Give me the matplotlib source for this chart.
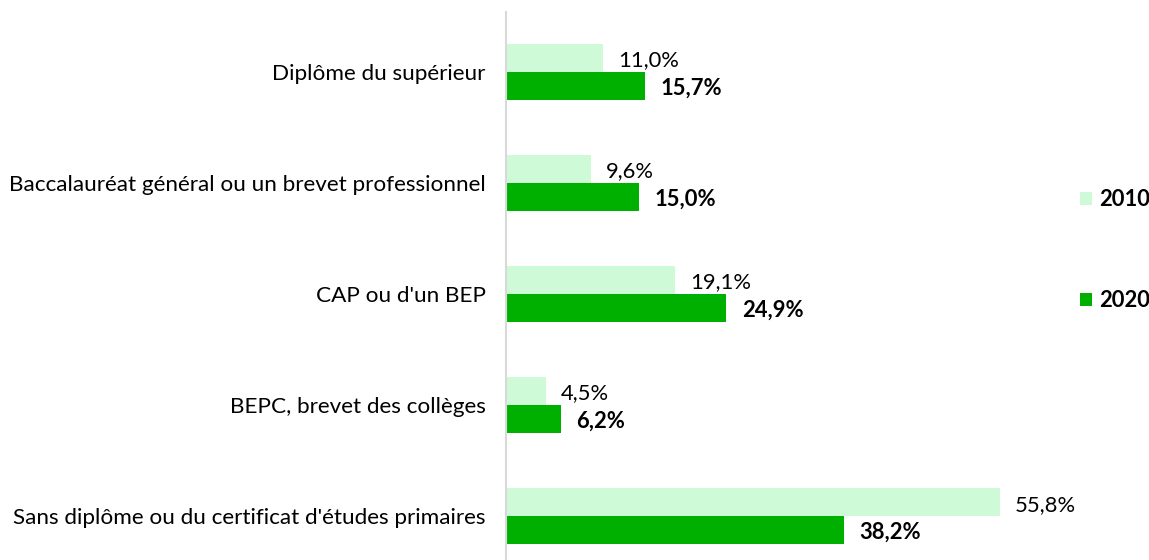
import matplotlib
matplotlib.use("Agg")
import matplotlib.pyplot as plt
from matplotlib.patches import Patch
import numpy as np

categories = [
    "Diplôme du supérieur",
    "Baccalauréat général ou un brevet professionnel",
    "CAP ou d'un BEP",
    "BEPC, brevet des collèges",
    "Sans diplôme ou du certificat d'études primaires",
]
values_2010 = [11.0, 9.6, 19.1, 4.5, 55.8]
values_2020 = [15.7, 15.0, 24.9, 6.2, 38.2]
series_labels = ["2010", "2020"]

c_light = "#CFFAD8"
c_dark = "#00B000"

plt.rcParams['font.family'] = ['Lato', 'DejaVu Sans']
FS = 15.8
FS_TICK = 16.2

W, H = 1149, 560
fig = plt.figure(figsize=(W / 100, H / 100), dpi=100)
left, right, top, bottom = 506, 1060, 12, 560
ax = fig.add_axes([left / W, 1 - bottom / H, (right - left) / W, (bottom - top) / H])

y = np.arange(len(categories))
h = 0.25
ax.barh(y - 0.128, values_2010, height=h, color=c_light, label=series_labels[0])
ax.barh(y + 0.128, values_2020, height=h, color=c_dark, label=series_labels[1])

px_per_unit = 8.85
ax.set_xlim(0, (right - left) / px_per_unit)
ax.set_ylim(4.396, -0.54)

def fmt(v):
    return f"{v:.1f}%".replace(".", ",")

for i, (a, b) in enumerate(zip(values_2010, values_2020)):
    ax.annotate(fmt(a), (a, i - 0.128), xytext=(11, -2), textcoords="offset points",
                va="center", ha="left", fontsize=FS, color="#000000")
    ax.annotate(fmt(b), (b, i + 0.128), xytext=(11, -1.5), textcoords="offset points",
                va="center", ha="left", fontsize=FS, fontweight="bold", color="#000000")

ax.set_yticks(y)
ax.set_yticklabels(categories, fontsize=FS_TICK)
ax.tick_params(axis="y", length=0, pad=14.5)
ax.set_xticks([])
for s in ["top", "right", "bottom"]:
    ax.spines[s].set_visible(False)
ax.spines["left"].set_color("#D9D9D9")
ax.spines["left"].set_linewidth(1.5)

handles = [Patch(facecolor=c_light, label=series_labels[0]),
           Patch(facecolor=c_dark, label=series_labels[1])]
fig.legend(handles=handles, loc="center left", bbox_to_anchor=(1080 / W, 1 - 250 / H),
           frameon=False, borderpad=0, borderaxespad=0, handlelength=0.55, handleheight=0.55,
           handletextpad=0.3, labelspacing=3.65, prop={"size": FS, "weight": "bold"})

fig.savefig("out.png", dpi=100)
